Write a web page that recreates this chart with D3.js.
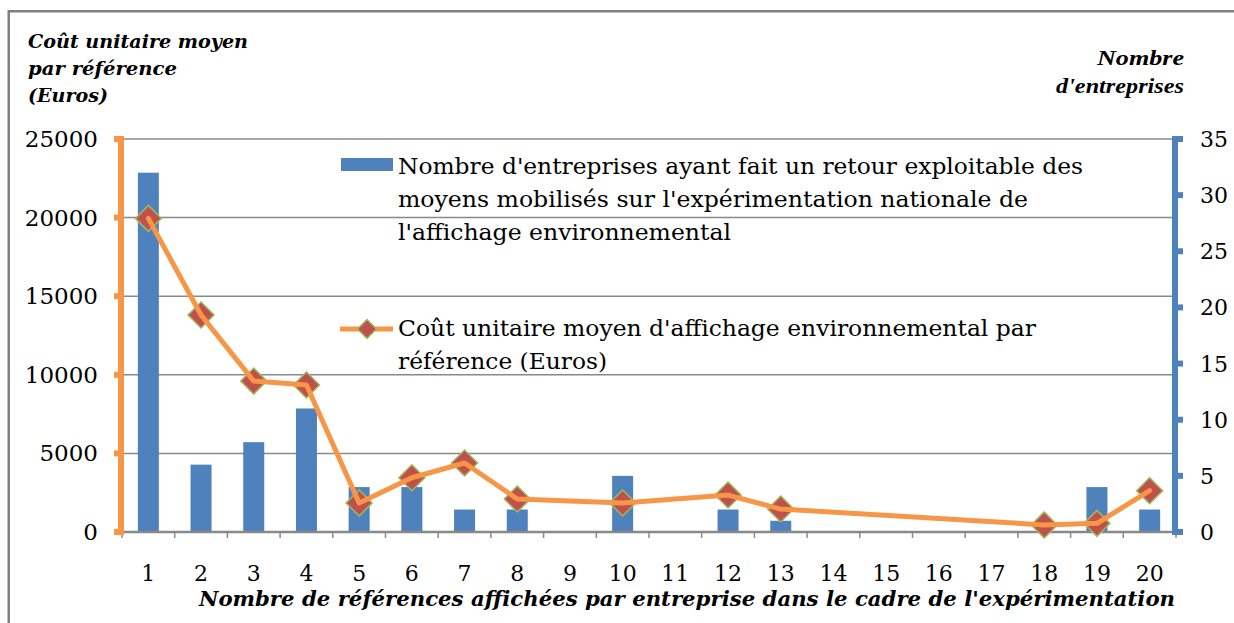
<!DOCTYPE html>
<html><head><meta charset="utf-8">
<script src="https://cdn.jsdelivr.net/npm/d3@7"></script>
<style>body{margin:0;background:#fff}svg{display:block}</style>
</head><body>
<svg id="c" width="1234" height="623"></svg>
<script>
const categories = [1,2,3,4,5,6,7,8,9,10,11,12,13,14,15,16,17,18,19,20];
const companyCounts = [32,6,8,11,4,4,2,2,0,5,0,2,1,0,0,0,0,0,4,2];
const unitCosts = [19950,13800,9600,9350,1850,3450,4390,2100,null,1850,null,2350,1460,null,null,null,null,450,550,2630];
const leftTicks = [0,5000,10000,15000,20000,25000];
const rightTicks = [0,5,10,15,20,25,30,35];
const leftTitle = ["Coût unitaire moyen","par référence","(Euros)"];
const rightTitle = ["Nombre","d'entreprises"];
const xTitle = "Nombre de références affichées par entreprise dans le cadre de l'expérimentation";
const barLegend = ["Nombre d'entreprises ayant fait un retour exploitable des","moyens mobilisés sur l'expérimentation nationale de","l'affichage environnemental"];
const lineLegend = ["Coût unitaire moyen d'affichage environnemental par","référence (Euros)"];

const svg = d3.select("#c");
const serif = "'DejaVu Serif', 'Liberation Serif', serif";
const ORANGE = "#F79646", BLUE = "#4F81BD", RED = "#C0504D", GREEN = "#9BBB59", GRID = "#898989";

const x = d3.scaleBand().domain(categories).range([122, 1176]).padding(0);
const yL = d3.scaleLinear().domain([0, 25000]).range([532, 139]);
const yR = d3.scaleLinear().domain([0, 35]).range([532, 139]);
const bw = x.bandwidth();

// frame
svg.append("rect").attr("x", 8.75).attr("y", 11.25).attr("width", 1300).attr("height", 700)
  .attr("fill", "none").attr("stroke", "#808080").attr("stroke-width", 2.5);

// gridlines
svg.append("g").selectAll("line").data(leftTicks.filter(t => t > 0)).join("line")
  .attr("x1", 122).attr("x2", 1173).attr("y1", d => yL(d)).attr("y2", d => yL(d))
  .attr("stroke", GRID).attr("stroke-width", 1.5);

// bars
svg.append("g").selectAll("rect").data(categories.map((c, i) => ({c, v: companyCounts[i]})).filter(d => d.v > 0)).join("rect")
  .attr("x", d => x(d.c) + bw / 2 - 10.5).attr("width", 21)
  .attr("y", d => yR(d.v)).attr("height", d => yR(0) - yR(d.v)).attr("fill", BLUE);

// x axis
svg.append("line").attr("x1", 122).attr("x2", 1176).attr("y1", 532).attr("y2", 532)
  .attr("stroke", GRID).attr("stroke-width", 2.5);
const edges = categories.map(c => x(c)).concat([x(categories[categories.length - 1]) + bw]);
svg.append("g").selectAll("line").data(edges).join("line")
  .attr("x1", d => d).attr("x2", d => d).attr("y1", 532).attr("y2", 538)
  .attr("stroke", GRID).attr("stroke-width", 1.5);
svg.append("g").selectAll("text").data(categories).join("text")
  .attr("x", d => x(d) + bw / 2).attr("y", 581).attr("text-anchor", "middle")
  .attr("font-family", serif).attr("font-size", 22).attr("fill", "#000").text(d => d);

// left axis (orange)
svg.append("rect").attr("x", 118).attr("y", 136).attr("width", 6).attr("height", 399).attr("fill", ORANGE);
svg.append("g").selectAll("rect").data(leftTicks).join("rect")
  .attr("x", 114).attr("width", 5).attr("y", d => yL(d) - 3).attr("height", 6).attr("fill", ORANGE);
svg.append("g").selectAll("text").data(leftTicks).join("text")
  .attr("x", 98).attr("y", d => yL(d) + 8).attr("text-anchor", "end")
  .attr("font-family", serif).attr("font-size", 23).attr("fill", "#000").text(d => d);

// right axis (blue)
svg.append("rect").attr("x", 1172).attr("y", 136).attr("width", 6).attr("height", 399).attr("fill", BLUE);
svg.append("g").selectAll("rect").data(rightTicks).join("rect")
  .attr("x", 1177).attr("width", 6).attr("y", d => yR(d) - 3).attr("height", 6).attr("fill", BLUE);
svg.append("g").selectAll("text").data(rightTicks).join("text")
  .attr("x", 1200).attr("y", d => yR(d) + 8).attr("text-anchor", "start")
  .attr("font-family", serif).attr("font-size", 22).attr("fill", "#000").text(d => d);

// line series
const pts = categories.map((c, i) => ({c, v: unitCosts[i]})).filter(d => d.v !== null);
const diamond = r => `M0,${-r}L${r},0L0,${r}L${-r},0Z`;
svg.append("g").selectAll("path").data(pts).join("path")
  .attr("transform", d => `translate(${x(d.c) + bw / 2},${yL(d.v)})`)
  .attr("d", diamond(13)).attr("fill", RED).attr("stroke", GREEN).attr("stroke-width", 1.5);
svg.append("path").datum(pts)
  .attr("d", d3.line().x(d => x(d.c) + bw / 2).y(d => yL(d.v)))
  .attr("fill", "none").attr("stroke", ORANGE).attr("stroke-width", 5)
  .attr("stroke-linejoin", "round").attr("stroke-linecap", "round");

// legend
const leg = svg.append("g");
leg.append("rect").attr("x", 341).attr("y", 158).attr("width", 52).attr("height", 13).attr("fill", BLUE);
const barLegW = [685, 630, 333];
leg.selectAll("text.b").data(barLegend).join("text").attr("class", "b")
  .attr("x", 398).attr("y", (d, i) => 174 + i * 33)
  .attr("textLength", (d, i) => barLegW[i]).attr("lengthAdjust", "spacingAndGlyphs")
  .attr("font-family", serif).attr("font-size", 22).attr("fill", "#000").text(d => d);
leg.append("line").attr("x1", 340).attr("x2", 393).attr("y1", 329).attr("y2", 329)
  .attr("stroke", ORANGE).attr("stroke-width", 5);
leg.append("path").attr("transform", "translate(367,329)").attr("d", diamond(9.5))
  .attr("fill", RED).attr("stroke", GREEN).attr("stroke-width", 1.5);
const lineLegW = [638, 209];
leg.selectAll("text.l").data(lineLegend).join("text").attr("class", "l")
  .attr("x", 398).attr("y", (d, i) => 336 + i * 33)
  .attr("textLength", (d, i) => lineLegW[i]).attr("lengthAdjust", "spacingAndGlyphs")
  .attr("font-family", serif).attr("font-size", 22).attr("fill", "#000").text(d => d);

// axis titles
const ltW = [220, 149, 80];
svg.append("g").selectAll("text").data(leftTitle).join("text")
  .attr("x", 28).attr("y", (d, i) => 48 + i * 27)
  .attr("textLength", (d, i) => ltW[i]).attr("lengthAdjust", "spacingAndGlyphs")
  .attr("font-family", serif).attr("font-size", 19).attr("font-weight", "bold").attr("font-style", "italic")
  .attr("fill", "#000").text(d => d);
const rtW = [87, 128];
svg.append("g").selectAll("text").data(rightTitle).join("text")
  .attr("x", (d, i) => 1184 - rtW[i]).attr("y", (d, i) => 65 + i * 28)
  .attr("textLength", (d, i) => rtW[i]).attr("lengthAdjust", "spacingAndGlyphs")
  .attr("font-family", "'Liberation Serif', serif").attr("font-size", 21).attr("font-weight", "bold").attr("font-style", "italic")
  .attr("fill", "#000").text(d => d);
svg.append("text").attr("x", 199).attr("y", 606)
  .attr("textLength", 976).attr("lengthAdjust", "spacingAndGlyphs")
  .attr("font-family", serif).attr("font-size", 21).attr("font-weight", "bold").attr("font-style", "italic")
  .attr("fill", "#000").text(xTitle);
</script>
</body></html>
